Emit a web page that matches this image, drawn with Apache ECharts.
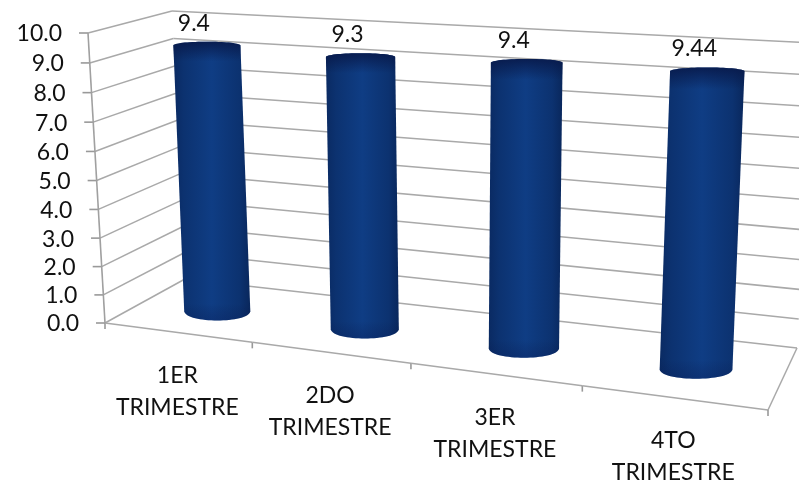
<!DOCTYPE html>
<html><head><meta charset="utf-8">
<style>html,body{margin:0;padding:0;background:#fff}#c{width:799px;height:484px}</style>
<script src="https://cdn.jsdelivr.net/npm/echarts@6/dist/echarts.min.js"></script>
</head><body><div id="c"></div>
<script>
const categories = ['1ER\nTRIMESTRE','2DO\nTRIMESTRE','3ER\nTRIMESTRE','4TO\nTRIMESTRE'];
const values = [9.4, 9.3, 9.4, 9.44];
const valueLabels = ['9.4','9.3','9.4','9.44'];
const yTicks = [0,1,2,3,4,5,6,7,8,9,10];
const edges = [0,1,2,3,4];

const G = {left:100, top:50, width:600, height:300};
const FONT = 'Lato';
const LINE = '#a9a9a9';

function homography(q){
  const [[x0,y0],[x1,y1],[x2,y2],[x3,y3]] = q;
  const dx1=x1-x2, dx2=x3-x2, sx=x0-x1+x2-x3, dy1=y1-y2, dy2=y3-y2, sy=y0-y1+y2-y3;
  const det=dx1*dy2-dx2*dy1, g=(sx*dy2-dx2*sy)/det, h=(dx1*sy-sx*dy1)/det;
  const a=x1-x0+g*x1, b=x3-x0+h*x3, d=y1-y0+g*y1, e=y3-y0+h*y3;
  return (u,v)=>{const w=g*u+h*v+1; return [(a*u+b*v+x0)/w,(d*u+e*v+y0)/w];};
}
// perspective planes of the 3D box: (u along categories or depth, v up)
const backWall  = homography([[185,279],[797,348],[815,43],[172,11]]);
const midPlane  = homography([[147.5,303],[787.5,381],[804.5,57],[133.5,24]]);
const leftWall  = homography([[105,323],[185,279],[172,11],[88,33]]);
const frontFace = homography([[105,323],[768,410],[790,74],[88,33]]);

const norm = p => [(p[0]-G.left)/G.width, 1-(p[1]-G.top)/G.height];
const line = (a,b,w,c) => ({type:'line',shape:{x1:a[0],y1:a[1],x2:b[0],y2:b[1]},style:{stroke:c||LINE,lineWidth:w||1.5}});

function renderTick(params, api){
  const value = api.value(0);
  const [,v] = norm(api.coord([0, value]));
  const front = leftWall(0,v), back = leftWall(1,v), right = backWall(1,v);
  return {type:'group',children:[
    line(front,back), line(back,right),
    line(front,[front[0]-9,front[1]],1.6,'#999'),
    {type:'text',x:front[0]-26,y:front[1]+1,style:{text:value.toFixed(1),font:'23px '+FONT,fill:'#111',align:'right',verticalAlign:'middle'}}
  ]};
}
function renderEdge(params, api){
  const i = api.value(0), last = edges.length-1;
  const p = frontFace(i/last,0);
  const ch = [line(p,[p[0],p[1]+6],1.6,'#999')];
  if(i<last) ch.push(line(p,frontFace((i+1)/last,0)));
  else ch.push(line(p,backWall(1,0)));
  if(i===0) ch.push(line(leftWall(0,0),leftWall(0,1),1.6,'#a0a0a0'));
  return {type:'group',children:ch};
}
function renderCat(params, api){
  const [u] = norm(api.coord([api.value(0),0]));
  const p = frontFace(u,0);
  return {type:'text',x:p[0],y:p[1]+27,style:{text:categories[params.dataIndex],font:'23px '+FONT,lineHeight:32,fill:'#111',align:'center',verticalAlign:'top'}};
}
function renderBar(params, api){
  const c0 = api.coord([api.value(0),0]), c1 = api.coord([api.value(0),api.value(1)]);
  const nominal = api.size([1,0])[0]*0.225;
  const [uC,vB] = norm(c0), [,vT] = norm(c1);
  const du = nominal/G.width;
  function edgePts(v){
    const c = midPlane(uC,v), l = midPlane(uC-du,v), r = midPlane(uC+du,v);
    const half = nominal + ((r[0]-l[0])/2-nominal)*0.4;
    return [[c[0]-half,c[1]],[c[0]+half,c[1]]];
  }
  const [tl,tr] = edgePts(vT), [bl,br] = edgePts(vB);
  const dT=3.5, dB=9, k=1.33;
  const w = tr[0]-tl[0], wb = br[0]-bl[0];
  const d = 'M'+tl[0]+' '+tl[1]+
    ' C'+(tl[0]+0.06*w)+' '+(tl[1]-k*dT)+' '+(tr[0]-0.06*w)+' '+(tr[1]-k*dT)+' '+tr[0]+' '+tr[1]+
    ' L'+br[0]+' '+br[1]+
    ' C'+(br[0]-0.04*wb)+' '+(br[1]+k*dB)+' '+(bl[0]+0.04*wb)+' '+(bl[1]+k*dB)+' '+bl[0]+' '+bl[1]+' Z';
  const cx=(tl[0]+tr[0])/2, cy=(tl[1]+tr[1])/2-dT;
  return {type:'group',children:[
    {type:'path',shape:{pathData:d},style:{fill:{type:'linear',x:0,y:0,x2:1,y2:0,colorStops:[
      {offset:0,color:'#0a2a62'},{offset:0.14,color:'#0c3270'},{offset:0.5,color:'#0f3d84'},
      {offset:0.86,color:'#0c3270'},{offset:1,color:'#09275c'}]}}},
    {type:'path',shape:{pathData:d},style:{fill:{type:'linear',x:0,y:0,x2:0,y2:1,colorStops:[
      {offset:0,color:'rgba(8,24,72,0.85)'},{offset:0.07,color:'rgba(8,24,72,0)'},
      {offset:0.94,color:'rgba(8,24,72,0)'},{offset:1,color:'rgba(8,30,90,0.35)'}]}}},
    {type:'text',x:cx-13,y:cy-7,style:{text:valueLabels[params.dataIndex],font:'23px '+FONT,fill:'#111',align:'center',verticalAlign:'bottom'}}
  ]};
}
const chart = echarts.init(document.getElementById('c'),null,{renderer:'canvas'});
chart.setOption({
  animation:false,
  backgroundColor:'#fff',
  grid:G,
  xAxis:{type:'category',data:categories,show:false},
  yAxis:{type:'value',min:0,max:10,interval:1,show:false},
  series:[
    {type:'custom',clip:false,encode:{y:0},data:yTicks.map(v=>[v]),renderItem:renderTick},
    {type:'custom',clip:false,coordinateSystem:'none',data:edges.map(v=>[v]),renderItem:renderEdge},
    {type:'custom',clip:false,encode:{x:0},data:categories.map((c,i)=>[i]),renderItem:renderCat},
    {type:'custom',clip:false,encode:{x:0,y:1},data:values.map((v,i)=>[i,v]),renderItem:renderBar}
  ]
});
</script></body></html>
